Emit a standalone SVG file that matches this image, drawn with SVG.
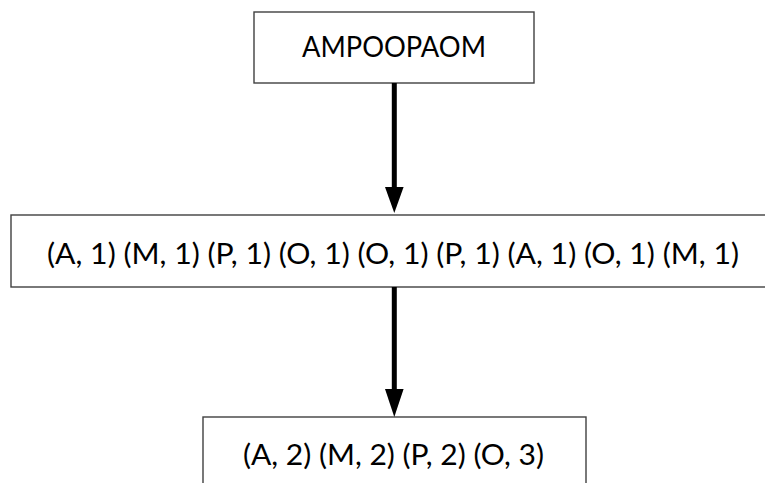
<svg xmlns="http://www.w3.org/2000/svg" width="765" height="483" viewBox="0 0 765 483">
<style>
.box{fill:#ffffff;stroke:#404040;stroke-width:1.4}
.lbl{font-family:Lato,"Open Sans","Liberation Sans",sans-serif;font-size:28px;fill:#000000;text-anchor:middle}
.conn{stroke:#000000;stroke-width:5;fill:none}
.head{fill:#000000}
</style>
<rect width="765" height="483" fill="#ffffff"/>
<g id="node-input">
<rect class="box" x="254" y="12" width="280" height="71"/>
<text class="lbl" x="394" y="57" textLength="184" lengthAdjust="spacingAndGlyphs">AMPOOPAOM</text>
</g>
<g id="node-map">
<rect class="box" x="11" y="215" width="770" height="72"/>
<text class="lbl" x="393" y="264" textLength="692" lengthAdjust="spacingAndGlyphs">(A, 1) (M, 1) (P, 1) (O, 1) (O, 1) (P, 1) (A, 1) (O, 1) (M, 1)</text>
</g>
<g id="node-reduce">
<rect class="box" x="203" y="417" width="383" height="80"/>
<text class="lbl" x="393.5" y="465" textLength="301" lengthAdjust="spacingAndGlyphs">(A, 2) (M, 2) (P, 2) (O, 3)</text>
</g>
<g id="connectors">
<line class="conn" x1="394.3" y1="83" x2="394.3" y2="189"/>
<polygon class="head" points="385,187 403.6,187 394.3,213"/>
<line class="conn" x1="394.3" y1="287" x2="394.3" y2="391"/>
<polygon class="head" points="385,389 403.6,389 394.3,417"/>
</g>
</svg>
